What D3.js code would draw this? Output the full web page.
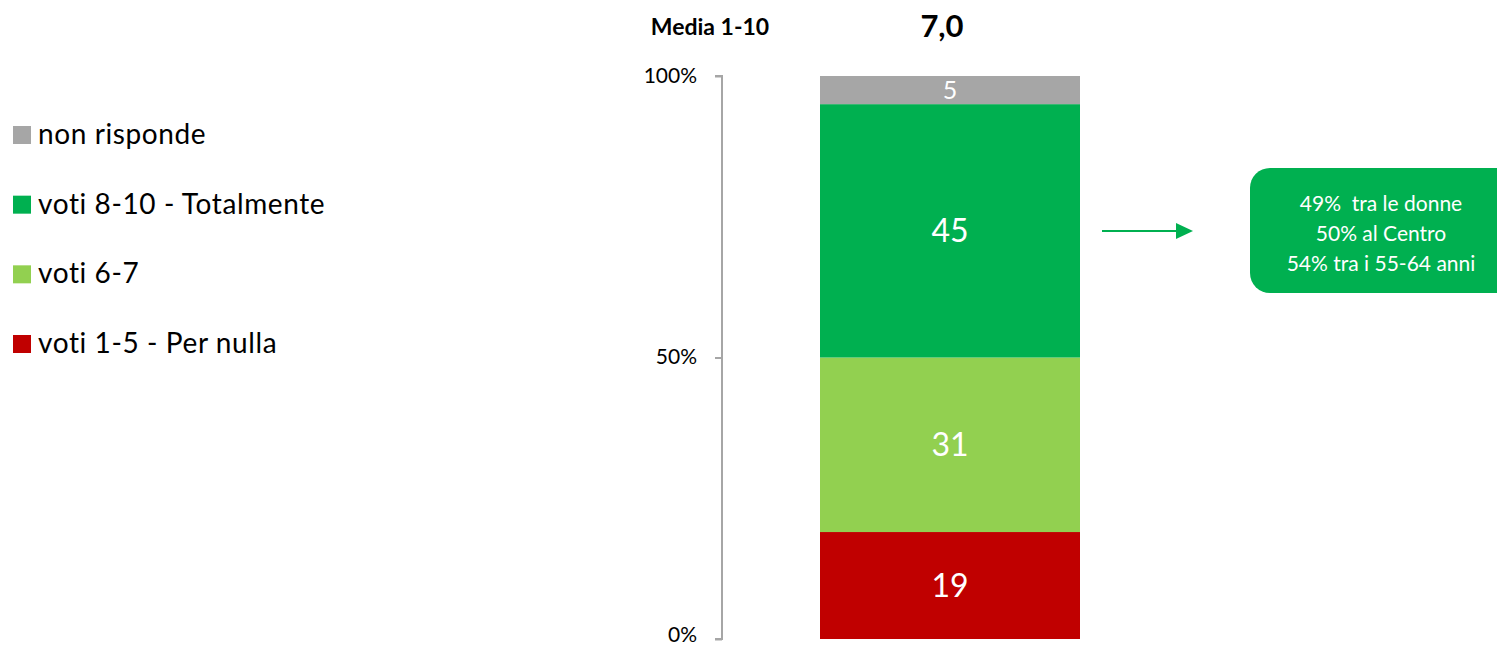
<!DOCTYPE html>
<html><head><meta charset="utf-8">
<script src="https://cdn.jsdelivr.net/npm/d3@7"></script>
<style>body{margin:0;background:#fff;} svg{display:block;font-family:Lato, "Open Sans", sans-serif;}</style>
</head><body>
<svg id="c" width="1497" height="648"></svg>
<script>
const categories = ["voti 1-5 - Per nulla", "voti 6-7", "voti 8-10 - Totalmente", "non risponde"];
const values = [19, 31, 45, 5];
const colors = ["#C00000", "#92D050", "#00B050", "#A6A6A6"];
const legendOrder = ["non risponde", "voti 8-10 - Totalmente", "voti 6-7", "voti 1-5 - Per nulla"];
const tickValues = [0, 50, 100];
const mediaLabel = "Media 1-10";
const mediaValue = "7,0";
const calloutLines = ["49%  tra le donne", "50% al Centro", "54% tra i 55-64 anni"];

const svg = d3.select("#c");
const y = d3.scaleLinear().domain([0, 100]).range([639, 76]);
const x = d3.scaleBand().domain(["tot"]).range([820, 1080]).padding(0);

// axis
const axis = d3.axisLeft(y).tickValues(tickValues).tickFormat(d => d + "%").tickSize(7).tickPadding(18);
const ag = svg.append("g").attr("transform", "translate(722,0)").call(axis);
ag.select(".domain").attr("stroke", "#A6A6A6").attr("stroke-width", 2).attr("d", "M-7,76H0V639H-7");
ag.selectAll(".tick line").attr("stroke", "#A6A6A6").attr("stroke-width", 2);
ag.selectAll(".tick text").attr("font-size", 21).attr("fill", "#000").attr("font-family", "Lato, sans-serif")
  .attr("dy", d => d === 0 ? "0.12em" : "0.3em");

// stacked bar
let cum = 0;
const segs = values.map((v, i) => { const s = {cat: categories[i], v, y0: cum, y1: cum + v, c: colors[i]}; cum += v; return s; });
svg.selectAll("rect.seg").data(segs).enter().append("rect")
  .attr("x", x("tot")).attr("width", x.bandwidth())
  .attr("y", d => y(d.y1)).attr("height", d => y(d.y0) - y(d.y1))
  .attr("fill", d => d.c);
svg.selectAll("text.lab").data(segs).enter().append("text")
  .attr("x", x("tot") + x.bandwidth() / 2)
  .attr("y", d => (y(d.y0) + y(d.y1)) / 2)
  .attr("dy", "0.36em").attr("text-anchor", "middle")
  .attr("fill", "#fff").attr("font-size", d => d.v < 10 ? 25 : 32)
  .text(d => d.v);

// header
svg.append("text").attr("x", 710).attr("y", 35).attr("text-anchor", "middle")
  .attr("font-weight", "bold").attr("font-size", 23).text(mediaLabel);
svg.append("text").attr("x", 942).attr("y", 37).attr("text-anchor", "middle")
  .attr("font-weight", "bold").attr("font-size", 31).text(mediaValue);

// legend
const lg = svg.append("g");
const ly = d3.scalePoint().domain(legendOrder).range([134, 343]);
legendOrder.forEach(cat => {
  const i = categories.indexOf(cat);
  lg.append("rect").attr("x", 13).attr("y", ly(cat) - 8).attr("width", 18).attr("height", 18).attr("fill", colors[i]);
  lg.append("text").attr("x", 38).attr("y", ly(cat)).attr("dy", "0.36em").attr("font-size", 28)
    .attr("letter-spacing", 0.6).attr("fill", "#000").text(cat);
});

// arrow
svg.append("line").attr("x1", 1102).attr("x2", 1180).attr("y1", 231).attr("y2", 231)
  .attr("stroke", "#00B050").attr("stroke-width", 2);
svg.append("path").attr("d", "M1176,223L1193,231L1176,239Z").attr("fill", "#00B050");

// callout
svg.append("rect").attr("x", 1250).attr("y", 168).attr("width", 270).attr("height", 125).attr("rx", 20).attr("fill", "#00B050");
svg.selectAll("text.co").data(calloutLines).enter().append("text")
  .attr("x", 1381).attr("y", (d, i) => 203 + i * 30).attr("dy", "0.36em").attr("text-anchor", "middle")
  .attr("fill", "#fff").attr("font-size", 21).attr("xml:space", "preserve").style("white-space", "pre").text(d => d);
</script>
</body></html>
